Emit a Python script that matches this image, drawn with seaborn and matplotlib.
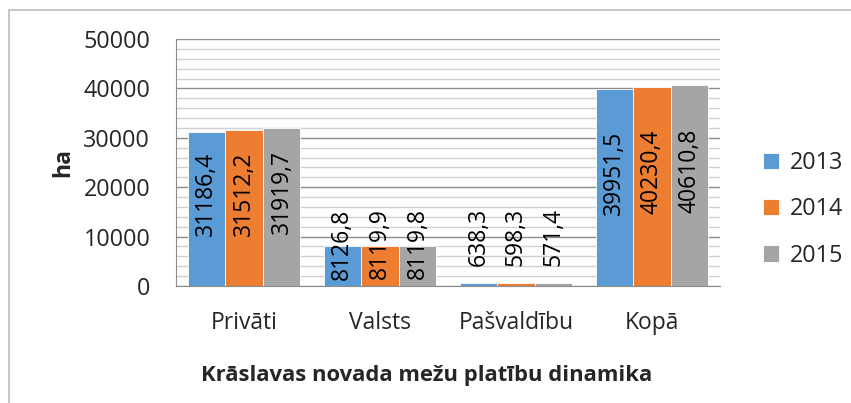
import matplotlib
matplotlib.use("Agg")
import matplotlib.pyplot as plt
import matplotlib.patches as mpatches
from matplotlib.ticker import MultipleLocator
import seaborn as sns
import pandas as pd

categories = ["Privāti", "Valsts", "Pašvaldību", "Kopā"]
years = ["2013", "2014", "2015"]
values_2013 = [31186.4, 8126.8, 638.3, 39951.5]
values_2014 = [31512.2, 8119.9, 598.3, 40230.4]
values_2015 = [31919.7, 8119.8, 571.4, 40610.8]
colors = ["#5B9BD5", "#ED7D31", "#A5A5A5"]
y_label = "ha"
title = "Krāslavas novada mežu platību dinamika"

rows = []
for yr, vals in zip(years, [values_2013, values_2014, values_2015]):
    for c, v in zip(categories, vals):
        rows.append({"cat": c, "year": yr, "val": v})
df = pd.DataFrame(rows)

sns.set_style("white")
plt.rcParams['font.family'] = ['Open Sans', 'DejaVu Sans']

W, H = 851, 403
fig = plt.figure(figsize=(W / 100, H / 100), dpi=100)
ax = fig.add_axes([176 / W, 1 - 286 / H, (720 - 176) / W, (286 - 39) / H])

# chart frame
fig.patches.append(mpatches.Rectangle((9 / W, -0.1), 1.2, 1 - 10 / H + 0.1,
                                      transform=fig.transFigure, fill=False,
                                      edgecolor="#BFBFBF", linewidth=1.2))

sns.barplot(data=df, x="cat", y="val", hue="year", order=categories,
            hue_order=years, palette=colors, width=0.83, ax=ax,
            edgecolor="white", linewidth=0.6, saturation=1, legend=True)

ax.set_ylim(0, 50000)
ax.set_xlim(-0.5, 3.5)
ax.yaxis.set_major_locator(MultipleLocator(10000))
ax.yaxis.set_minor_locator(MultipleLocator(2000))
ax.grid(axis="y", which="major", color="#8C8C8C", linewidth=1.0)
ax.grid(axis="y", which="minor", color="#D0D0D0", linewidth=1.0)
ax.set_axisbelow(True)
for s in ["top", "right"]:
    ax.spines[s].set_visible(False)
ax.spines["left"].set_color("#8C8C8C")
ax.spines["bottom"].set_color("#8C8C8C")
ax.tick_params(axis="y", which="major", direction="out", length=6.5, width=1,
               color="#8C8C8C", labelsize=16.8, pad=12)
ax.tick_params(axis="y", which="minor", length=0)
ax.tick_params(axis="x", length=0, labelsize=16.5, pad=18)
ax.set_xlabel("")
ax.set_ylabel(y_label, fontsize=16.5, fontweight="bold", labelpad=6)

for cont in ax.containers:
    for bar in cont:
        v = bar.get_height()
        ypos = max(v / 2 + 3000, 8500 + (9900 - 8500) * (v < 2000))
        txt = f"{v:.1f}".replace(".", ",")
        ax.text(bar.get_x() + bar.get_width() / 2, ypos, txt, rotation=90,
                ha="center", va="center", fontsize=16.5, color="black")

leg = ax.legend(loc="center left", bbox_to_anchor=(1.04, 0.31), frameon=False,
                fontsize=16.8, handlelength=0.7, handleheight=0.7,
                labelspacing=0.95, handletextpad=0.45)

fig.text(427 / W, 1 - 376 / H, title, ha="center", va="center",
         fontsize=15.8, fontweight="bold")

fig.savefig("out.png", dpi=100)
